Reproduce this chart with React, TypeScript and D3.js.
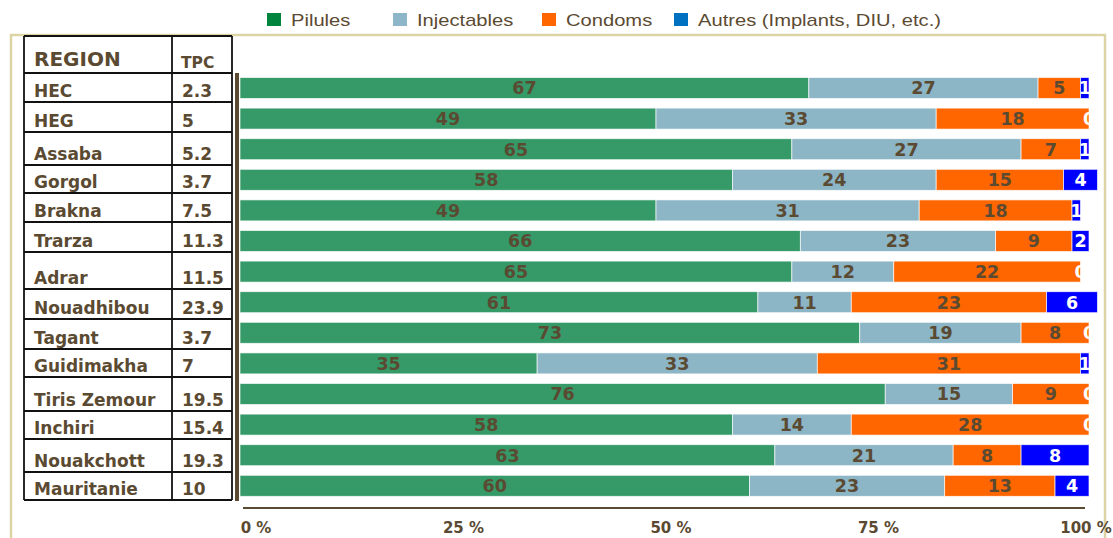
import React, { useEffect, useRef } from 'react';
import * as d3 from 'd3';

// data
const regions = ['HEC', 'HEG', 'Assaba', 'Gorgol', 'Brakna', 'Trarza', 'Adrar', 'Nouadhibou', 'Tagant', 'Guidimakha', 'Tiris Zemour', 'Inchiri', 'Nouakchott', 'Mauritanie'];
const tpc = ['2.3', '5', '5.2', '3.7', '7.5', '11.3', '11.5', '23.9', '3.7', '7', '19.5', '15.4', '19.3', '10'];
const pilules = [67, 49, 65, 58, 49, 66, 65, 61, 73, 35, 76, 58, 63, 60];
const injectables = [27, 33, 27, 24, 31, 23, 12, 11, 19, 33, 15, 14, 21, 23];
const condoms = [5, 18, 7, 15, 18, 9, 22, 23, 8, 31, 9, 28, 8, 13];
const autres = [1, 0, 1, 4, 1, 2, 0, 6, 0, 1, 0, 0, 8, 4];
const seriesNames = ['Pilules', 'Injectables', 'Condoms', 'Autres (Implants, DIU, etc.)'];
const tickValues = [0, 25, 50, 75, 100];

// styling
const barColors = ['#359a68', '#8cb5c6', '#ff6600', '#0000ff'];
const legendColors = ['#00843e', '#8db6c8', '#ff6600', '#0070c0'];
const brown = '#5b4a32';
const tableLines = [36, 73, 102, 132, 165, 193, 222, 252, 289, 319, 349, 377, 411, 439, 472, 500];
const legendX = [267, 393, 542, 674];

const App: React.FC = () => {
  const svgRef = useRef<SVGSVGElement>(null);

  useEffect(() => {
    const svg = d3.select(svgRef.current);
    svg.selectAll('*').remove();

    const W = 1113, H = 538;
    svg.attr('width', W).attr('height', H);
    svg.append('rect').attr('width', W).attr('height', H).attr('fill', '#fff');

    // beige frame
    svg.append('rect')
      .attr('x', 11).attr('y', 35).attr('width', 1094).attr('height', 520)
      .attr('fill', 'none').attr('stroke', '#ddd4a6').attr('stroke-width', 2.5);

    // legend (text is stretched horizontally in the reference)
    const leg = svg.append('g');
    seriesNames.forEach((name, i) => {
      leg.append('rect')
        .attr('x', legendX[i]).attr('y', 13).attr('width', 14).attr('height', 13)
        .attr('fill', legendColors[i]);
      leg.append('text')
        .attr('transform', `translate(${legendX[i] + 24},26) scale(1.26,1)`)
        .attr('font-family', 'Liberation Sans, Arial, sans-serif')
        .attr('font-size', 16).attr('fill', brown)
        .text(name);
    });

    // table
    const tbl = svg.append('g');
    const tx0 = 24, tx1 = 172, tx2 = 232;
    tableLines.forEach(y => {
      tbl.append('line').attr('x1', tx0).attr('x2', tx2).attr('y1', y).attr('y2', y)
        .attr('stroke', '#111').attr('stroke-width', 1.8);
    });
    [tx0, tx1, tx2].forEach(x => {
      tbl.append('line').attr('x1', x).attr('x2', x)
        .attr('y1', tableLines[0]).attr('y2', tableLines[tableLines.length - 1])
        .attr('stroke', '#111').attr('stroke-width', 1.8);
    });
    const tfont = 'DejaVu Sans, Verdana, sans-serif';
    tbl.append('text').attr('x', 34).attr('y', 66)
      .attr('font-family', tfont).attr('font-weight', 'bold').attr('font-size', 20)
      .attr('fill', brown).text('REGION');
    tbl.append('text').attr('x', 181).attr('y', 68)
      .attr('font-family', tfont).attr('font-weight', 'bold').attr('font-size', 15.5)
      .attr('fill', brown).text('TPC');
    regions.forEach((r, i) => {
      const yb = tableLines[i + 2] - 5;
      tbl.append('text').attr('x', 34).attr('y', yb)
        .attr('font-family', tfont).attr('font-weight', 'bold').attr('font-size', 17)
        .attr('fill', brown).text(r);
      tbl.append('text').attr('x', 182).attr('y', yb)
        .attr('font-family', tfont).attr('font-weight', 'bold').attr('font-size', 17)
        .attr('fill', brown).text(tpc[i]);
    });

    // bars
    const rows = regions.map((r, i) => ({
      region: r,
      s0: pilules[i], s1: injectables[i], s2: condoms[i], s3: autres[i],
    }));
    const keys = ['s0', 's1', 's2', 's3'];
    const stacked = d3.stack<any>().keys(keys)(rows);

    const x = d3.scaleLinear().domain([0, 100]).range([240, 1089]);
    const y = d3.scaleBand().domain(regions).range([72.7, 501.1]).paddingInner(0.314).paddingOuter(0.157);

    const g = svg.append('g');
    stacked.forEach((layer, si) => {
      const lg = g.append('g');
      lg.selectAll('rect')
        .data(layer)
        .join('rect')
        .attr('x', d => x(d[0]))
        .attr('y', d => y(d.data.region)!)
        .attr('width', d => x(d[1]) - x(d[0]))
        .attr('height', y.bandwidth())
        .attr('fill', barColors[si])
        .attr('stroke', 'rgba(255,255,255,0.8)')
        .attr('stroke-width', 0.8);
    });
    stacked.forEach((layer, si) => {
      g.append('g').selectAll('text')
        .data(layer)
        .join('text')
        .attr('x', d => x((d[0] + d[1]) / 2))
        .attr('y', d => y(d.data.region)! + y.bandwidth() / 2)
        .attr('dy', '0.36em')
        .attr('text-anchor', 'middle')
        .attr('font-family', tfont).attr('font-weight', 'bold').attr('font-size', 17.5)
        .attr('fill', si === 3 ? '#fff' : brown)
        .text(d => String(d[1] - d[0]));
    });

    // axes lines
    svg.append('line').attr('x1', 237).attr('x2', 237).attr('y1', 73).attr('y2', 501)
      .attr('stroke', brown).attr('stroke-width', 4);
    svg.append('line').attr('x1', 243).attr('x2', 1085).attr('y1', 508).attr('y2', 508)
      .attr('stroke', brown).attr('stroke-width', 2);

    // tick labels (spread slightly wider than the bar scale in the reference)
    const xl = d3.scaleLinear().domain([0, 100]).range([256, 1086]);
    svg.append('g').selectAll('text')
      .data(tickValues)
      .join('text')
      .attr('x', d => xl(d)).attr('y', 533)
      .attr('text-anchor', 'middle')
      .attr('font-family', tfont).attr('font-weight', 'bold').attr('font-size', 15)
      .attr('fill', brown)
      .text(d => `${d} %`);
  }, []);

  return (
    <svg ref={svgRef} style={{ position: 'absolute', left: 0, top: 0, display: 'block' }}></svg>
  );
};

export default App;
